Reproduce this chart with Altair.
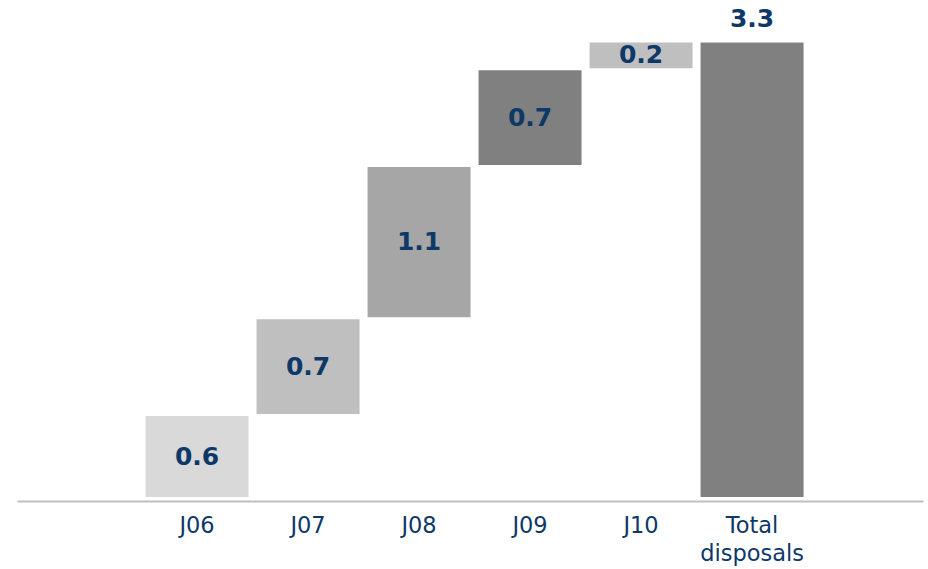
import altair as alt
import pandas as pd

categories = ["J06", "J07", "J08", "J09", "J10", "Total disposals"]
values = [0.6, 0.7, 1.1, 0.7, 0.2, 3.3]
is_total = [False, False, False, False, False, True]
labels = ["0.6", "0.7", "1.1", "0.7", "0.2", "3.3"]

bar_colors = ["#d9d9d9", "#bfbfbf", "#a6a6a6", "#808080", "#bfbfbf", "#808080"]
text_color = "#0d3868"
font = "DejaVu Sans"

# empty slots at both ends of the category axis
x_domain = ["_left"] + categories + ["_right"]

starts, ends = [], []
running = 0.0
for v, t in zip(values, is_total):
    if t:
        starts.append(0.0)
        ends.append(v)
    else:
        starts.append(running)
        running += v
        ends.append(running)

df = pd.DataFrame({
    "cat": categories,
    "value": values,
    "start": starts,
    "end": ends,
    "mid": [(s + e) / 2 for s, e in zip(starts, ends)],
    "total": is_total,
    "label": labels,
})

xscale = alt.Scale(domain=x_domain, paddingInner=0.054, paddingOuter=0.108, align=0.69)
x = alt.X(
    "cat:N",
    scale=xscale,
    axis=alt.Axis(
        title=None,
        labelAngle=0,
        ticks=False,
        domainColor="#bfbfbf",
        domainWidth=2,
        offset=3,
        labelFont=font,
        labelFontSize=22.5,
        labelColor=text_color,
        labelPadding=13,
        labelLineHeight=28,
        labelExpr="datum.value == 'Total disposals' ? ['Total', 'disposals'] : (datum.value[0] == '_' ? '' : datum.value)",
    ),
)
yscale = alt.Scale(domain=[0, 3.6], nice=False, zero=True)

base = alt.Chart(df)

bars = base.mark_bar(stroke="white", strokeWidth=2).encode(
    x=x,
    y=alt.Y("start:Q", scale=yscale, axis=None),
    y2="end:Q",
    color=alt.Color("cat:N", scale=alt.Scale(domain=categories, range=bar_colors), legend=None),
)

step_text = base.transform_filter("!datum.total").mark_text(
    font=font, fontSize=25, fontWeight="bold", color=text_color, baseline="middle"
).encode(
    x=alt.X("cat:N", scale=xscale),
    y=alt.Y("mid:Q", scale=yscale),
    text="label:N",
)

total_text = base.transform_filter("datum.total").mark_text(
    font=font, fontSize=25, fontWeight="bold", color=text_color, baseline="bottom", dy=-10
).encode(
    x=alt.X("cat:N", scale=xscale),
    y=alt.Y("end:Q", scale=yscale),
    text="label:N",
)

chart = alt.layer(bars, step_text, total_text).properties(
    width=906,
    height=498,
    background="white",
    autosize=alt.AutoSizeParams(type="none"),
    padding={"left": 17, "top": 0, "right": 5, "bottom": 71},
).configure_view(stroke=None, strokeWidth=0)

chart.save("out.html", embed_options={"renderer": "svg", "actions": False})
